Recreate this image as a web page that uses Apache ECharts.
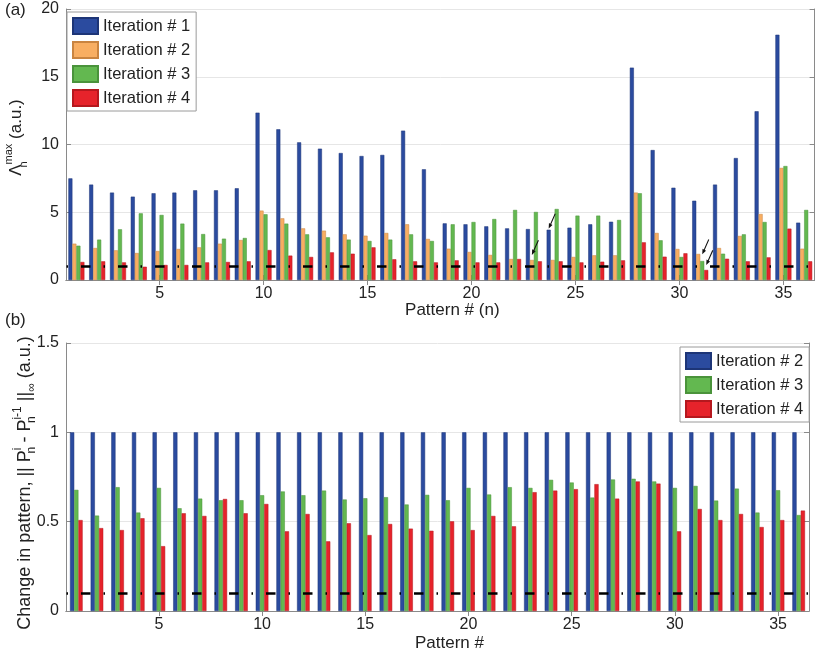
<!DOCTYPE html>
<html><head><meta charset="utf-8">
<script src="https://cdn.jsdelivr.net/npm/echarts@6/dist/echarts.min.js"></script>
<style>html,body{margin:0;padding:0;background:#fff}#c{width:816px;height:652px}</style>
</head><body><div id="c"></div>
<script>
// ---------- data ----------
const patterns = ['1','2','3','4','5','6','7','8','9','10','11','12','13','14','15','16','17','18','19','20','21','22','23','24','25','26','27','28','29','30','31','32','33','34','35','36'];
const tickLabelsX = ['5','10','15','20','25','30','35'];

// (a) Lambda_n^max per iteration
const iter1A = [7.5,7.04,6.45,6.15,6.4,6.45,6.62,6.62,6.77,12.35,11.12,10.16,9.69,9.37,9.15,9.23,11.02,8.17,4.18,4.11,3.96,3.81,3.76,3.71,3.86,4.11,4.3,15.67,9.59,6.81,5.85,7.04,9.0,12.45,18.1,4.23];
const iter2A = [2.68,2.36,2.19,1.99,2.14,2.29,2.41,2.68,2.95,5.12,4.55,3.81,3.64,3.37,3.27,3.47,4.11,3.03,2.31,2.07,1.85,1.55,1.48,1.48,1.7,1.82,1.82,6.45,3.47,2.29,1.92,2.36,3.25,4.87,8.27,2.31];
const iter3A = [2.53,2.98,3.74,4.92,4.8,4.16,3.39,3.05,3.1,4.85,4.16,3.37,3.15,2.98,2.88,2.98,3.37,2.88,4.11,4.28,4.5,5.17,5.02,5.24,4.75,4.75,4.43,6.4,2.93,1.7,1.4,1.94,3.37,4.28,8.41,5.17];
const iter4A = [1.33,1.38,1.3,0.98,1.11,1.11,1.3,1.33,1.38,2.21,1.8,1.7,2.04,1.94,2.41,1.53,1.38,1.3,1.45,1.3,1.3,1.55,1.38,1.38,1.3,1.35,1.45,2.78,1.72,1.97,0.74,1.57,1.38,1.67,3.79,1.38];
const thresholdA = 1;
const yTicksA = [0,5,10,15,20];

// (b) change in pattern per iteration
const iter2B = [1,1,1,1,1,1,1,1,1,1,1,1,1,1,1,1,1,1,1,1,1,1,1,1,1,1,1,1,1,1,1,1,1,1,1,1];
const iter3B = [0.678,0.534,0.693,0.551,0.689,0.575,0.629,0.62,0.62,0.648,0.669,0.648,0.674,0.624,0.631,0.637,0.596,0.65,0.62,0.689,0.652,0.693,0.689,0.734,0.719,0.635,0.736,0.74,0.725,0.689,0.7,0.618,0.685,0.551,0.676,0.537];
const iter4B = [0.509,0.464,0.453,0.519,0.363,0.547,0.532,0.627,0.547,0.599,0.446,0.543,0.39,0.491,0.425,0.487,0.461,0.449,0.502,0.453,0.532,0.474,0.665,0.674,0.682,0.71,0.629,0.725,0.713,0.446,0.571,0.509,0.543,0.47,0.509,0.562];
const thresholdB = 0.1;
const yTicksB = [0,0.5,1,1.5];

// arrows in (a): [series, category, value at arrow tip]
const arrowsA = [['iter2','23',1.85],['iter1','24',3.8],['iter3','31',1.9],['iter4','31',1.1]];

// ---------- style ----------
const FONT = 'Liberation Sans, Arial, sans-serif';
const C_BLUE = '#2b4b9f', C_ORANGE = '#f8ae62', C_GREEN = '#63b850', C_RED = '#e6232b';
const AXIS_C = '#8a8a8a', TXT = '#222';
const ARROW_PATH = 'path://M10.72,0.36 L9.28,-0.36 L2.41,13.38 L3.85,14.1 Z M0,20 L0.45,12.4 L5.81,15.08 Z';

const tickInt = (i) => tickLabelsX.indexOf(patterns[i]) >= 0;

function xAx(grid, pos, name, gap, pad) {
  const main = pos === 'bottom';
  return {
    type: 'category', gridIndex: grid, position: pos, data: patterns, boundaryGap: true,
    axisLine: { show: true, lineStyle: { color: AXIS_C, width: 1 } },
    axisTick: { show: true, inside: true, length: 5, alignWithLabel: true, interval: tickInt, lineStyle: { color: AXIS_C } },
    axisLabel: { show: main, interval: tickInt, fontSize: 16, color: TXT, fontFamily: FONT, margin: 6 },
    splitLine: { show: false },
    name: main ? name : '', nameLocation: 'middle', nameGap: gap, nameMoveOverlap: false,
    nameTextStyle: { fontSize: 17, color: TXT, fontFamily: FONT, padding: pad || 0 }
  };
}
function yAx(grid, pos, ticks, name, gap, rich, pad) {
  const main = pos === 'left';
  return {
    type: 'value', gridIndex: grid, position: pos, min: ticks[0], max: ticks[ticks.length - 1],
    interval: ticks[1] - ticks[0],
    axisLine: { show: true, lineStyle: { color: AXIS_C, width: 1 } },
    axisTick: { show: true, inside: true, length: 5, lineStyle: { color: AXIS_C } },
    axisLabel: { show: main, fontSize: 16, color: TXT, fontFamily: FONT, margin: 7 },
    splitLine: { show: main, lineStyle: { color: '#e6e6e6', width: 1 } },
    name: main ? name : '', nameLocation: 'middle', nameGap: gap, nameRotate: 90, nameMoveOverlap: false,
    nameTextStyle: { fontSize: 17, color: TXT, fontFamily: FONT, rich: rich, padding: pad || 0 }
  };
}
function richName(fs, ss) {
  return {
    t: { fontSize: fs, color: TXT, fontFamily: FONT, lineHeight: 26, verticalAlign: 'middle' },
    sub: { fontSize: ss, color: TXT, fontFamily: FONT, lineHeight: 26, verticalAlign: 'bottom', width: 0.01 },
    subw: { fontSize: ss, color: TXT, fontFamily: FONT, lineHeight: 26, verticalAlign: 'bottom' },
    sup: { fontSize: ss, color: TXT, fontFamily: FONT, lineHeight: 26, verticalAlign: 'top' }
  };
}

function bar(name, data, color, border, xi, yi, bw, extra) {
  return Object.assign({
    type: 'bar', name: name, data: data, xAxisIndex: xi, yAxisIndex: yi,
    barWidth: bw, barGap: '0%',
    itemStyle: { color: color, borderColor: border, borderWidth: 0.5 },
    emphasis: { disabled: true }
  }, extra || {});
}
function threshold(v) {
  return { markLine: { silent: true, symbol: 'none', z: 10, label: { show: false },
    lineStyle: { color: '#000', width: 2.5, type: [9.5, 13, 1.5, 13], dashOffset: 22 },
    data: [{ yAxis: v }] } };
}
function arrowsFor(key) {
  const pts = arrowsA.filter(a => a[0] === key).map(a => ({ coord: [a[1], a[2]] }));
  if (!pts.length) return {};
  return { markPoint: { silent: true, symbol: ARROW_PATH, symbolSize: [7, 15], symbolOffset: [3.5, -7.5],
    itemStyle: { color: '#111' }, label: { show: false }, data: pts } };
}
function merge(a, b) { return Object.assign({}, a, b); }

const legendBase = {
  orient: 'vertical', itemWidth: 25, itemHeight: 16, itemGap: 6, icon: 'rect',
  padding: [5, 6, 4, 5], borderColor: '#9a9a9a', borderWidth: 1, backgroundColor: '#fff',
  textStyle: { fontSize: 16.5, color: TXT, fontFamily: FONT },
  selectedMode: false, formatter: (n) => n.trim()
};

const option = {
  animation: false,
  backgroundColor: '#fff',
  grid: [
    { left: 66, top: 9, width: 748.6, height: 271, containLabel: false, outerBoundsMode: 'none' },
    { left: 66, top: 343, width: 743, height: 268, containLabel: false, outerBoundsMode: 'none' }
  ],
  xAxis: [
    xAx(0, 'bottom', 'Pattern # (n)', 22, [0, 0, 0, 24]),
    xAx(0, 'top'),
    xAx(1, 'bottom', 'Pattern #', 24, [0, 0, 0, 24]),
    xAx(1, 'top')
  ],
  yAxis: [
    yAx(0, 'left', yTicksA, '{t|Λ}{sub|n}{sup|max}{t| (a.u.)}', 37, richName(17, 11), [0, 0, 0, 14]),
    yAx(0, 'right', yTicksA),
    yAx(1, 'left', yTicksB, '{t|Change in pattern, || P}{sub|n}{sup|i}{t| - P}{sub|n}{sup|i-1}{t| ||}{subw|∞}{t| (a.u.)}', 28, richName(18, 12), [0, 12, 0, 0]),
    yAx(1, 'right', yTicksB)
  ],
  legend: [
    merge(legendBase, { left: 67, top: 12, data: ['Iteration # 1', 'Iteration # 2', 'Iteration # 3', 'Iteration # 4'] }),
    merge(legendBase, { left: 680, top: 347, data: ['Iteration # 2 ', 'Iteration # 3 ', 'Iteration # 4 '] })
  ],
  series: [
    bar('Iteration # 1', iter1A, C_BLUE, '#1d3577', 0, 0, 4, arrowsFor('iter1')),
    bar('Iteration # 2', iter2A, C_ORANGE, '#c98440', 0, 0, 4, arrowsFor('iter2')),
    bar('Iteration # 3', iter3A, C_GREEN, '#4a933b', 0, 0, 4, arrowsFor('iter3')),
    bar('Iteration # 4', iter4A, C_RED, '#b5181e', 0, 0, 4, merge(arrowsFor('iter4'), threshold(thresholdA))),
    bar('Iteration # 2 ', iter2B, C_BLUE, '#1d3577', 2, 2, 4.2),
    bar('Iteration # 3 ', iter3B, C_GREEN, '#4a933b', 2, 2, 4.2),
    bar('Iteration # 4 ', iter4B, C_RED, '#b5181e', 2, 2, 4.2, threshold(thresholdB))
  ],
  graphic: [
    { type: 'text', left: 5, top: 2, style: { text: '(a)', fontSize: 17, fill: TXT, fontFamily: FONT } },
    { type: 'text', left: 5, top: 312, style: { text: '(b)', fontSize: 17, fill: TXT, fontFamily: FONT } }
  ]
};

const chart = echarts.init(document.getElementById('c'), null, { renderer: 'canvas' });
chart.setOption(option);
</script>
</body></html>
